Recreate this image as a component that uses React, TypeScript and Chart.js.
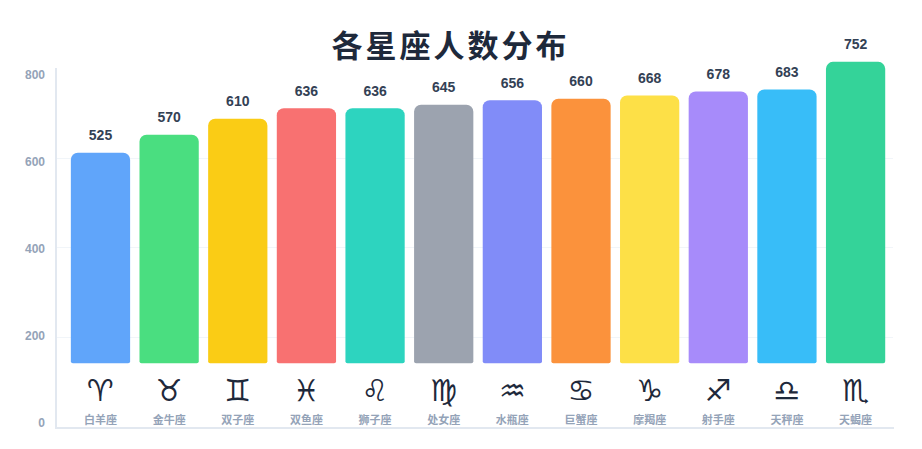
// App.tsx
import React, { useEffect, useRef } from 'react';
import Chart from 'chart.js/auto';

const chartTitle = '各星座人数分布';
const signNames = ['白羊座', '金牛座', '双子座', '双鱼座', '狮子座', '处女座', '水瓶座', '巨蟹座', '摩羯座', '射手座', '天秤座', '天蝎座'];
const signGlyphs = ['♈', '♉', '♊', '♓', '♌', '♍', '♒', '♋', '♑', '♐', '♎', '♏'];
const signCounts = [525, 570, 610, 636, 636, 645, 656, 660, 668, 678, 683, 752];
const barColors = ['#60a5fa', '#4ade80', '#facc15', '#f87171', '#2dd4bf', '#9ca3af', '#818cf8', '#fb923c', '#fde047', '#a78bfa', '#38bdf8', '#34d399'];
const yTickValues = [0, 200, 400, 600, 800];
const gridValues = [200, 400, 600];

const LATIN_FONT = '"Liberation Sans", "Noto Sans CJK SC", sans-serif';

// opaque canvas needs its own white fill
const backgroundPlugin = {
    id: 'whiteBackground',
    beforeDraw(chart: any) {
        const { ctx, width, height } = chart;
        ctx.save();
        ctx.fillStyle = '#ffffff';
        ctx.fillRect(0, 0, width, height);
        ctx.restore();
    },
};

// title, value labels, glyphs and sign names are all drawn on top of the bars
const labelsPlugin = {
    id: 'zodiacLabels',
    afterDatasetsDraw(chart: any) {
        const { ctx } = chart;
        const bars = chart.getDatasetMeta(0).data;
        ctx.save();
        ctx.textAlign = 'center';
        ctx.textBaseline = 'alphabetic';

        ctx.fillStyle = '#1e293b';
        ctx.font = `bold 31px ${LATIN_FONT}`;
        (ctx as any).letterSpacing = '3px';
        ctx.fillText(chartTitle, 450.5, 56.5);
        (ctx as any).letterSpacing = '0px';

        bars.forEach((bar: any, i: number) => {
            ctx.fillStyle = '#334155';
            ctx.font = `bold 14px ${LATIN_FONT}`;
            ctx.fillText(String(signCounts[i]), bar.x, bar.y - 13);

            ctx.fillStyle = '#1e293b';
            ctx.font = '30px "DejaVu Sans"';
            ctx.fillText(signGlyphs[i] + '\uFE0E', bar.x, 401);

            ctx.fillStyle = '#94a3b8';
            ctx.font = `bold 11px ${LATIN_FONT}`;
            ctx.fillText(signNames[i], bar.x, 424);
        });
        ctx.restore();
    },
};

const App: React.FC = () => {
    const chartRef = useRef<HTMLCanvasElement>(null);

    useEffect(() => {
        if (!chartRef.current) return;
        document.body.style.margin = '0';
        // alpha off so text gets the same antialiasing as page text
        chartRef.current.getContext('2d', { alpha: false });

        const chart = new Chart(chartRef.current, {
            type: 'bar',
            data: {
                datasets: [{
                    data: signCounts.map((v, i) => ({ x: i, y: v })),
                    backgroundColor: barColors,
                    barThickness: 58.6,
                    borderSkipped: false,
                    borderRadius: { topLeft: 7, topRight: 7, bottomLeft: 2, bottomRight: 2 },
                    clip: false,
                    yAxisID: 'yBars',
                }],
            } as any,
            options: {
                responsive: false,
                animation: false,
                layout: { padding: { left: 0, right: 29, top: 69, bottom: 13 } },
                plugins: {
                    legend: { display: false },
                    title: { display: false },
                    tooltip: { enabled: false },
                },
                scales: {
                    x: {
                        type: 'linear',
                        bounds: 'data',
                        offset: false,
                        min: -0.648,
                        max: 11.545,
                        ticks: { display: false },
                        grid: { display: false, offset: false },
                        border: { color: '#e2e8f0', width: 2 },
                    },
                    // the bars sit on their own baseline, above the visible axis
                    yBars: {
                        type: 'linear',
                        display: false,
                        bounds: 'data',
                        min: -162.5,
                        max: 735,
                    },
                    yGrid: {
                        type: 'linear',
                        position: 'left',
                        bounds: 'data',
                        min: -2.2,
                        max: 799,
                        afterBuildTicks: (scale: any) => {
                            scale.ticks = gridValues.map(value => ({ value }));
                        },
                        ticks: { display: false },
                        grid: { color: '#f1f5f9', drawTicks: false },
                        border: { color: '#e2e8f0', width: 2 },
                        afterFit: (scale: any) => { scale.width = 0; },
                    },
                    yLabels: {
                        type: 'linear',
                        position: 'left',
                        bounds: 'data',
                        min: -9.9,
                        max: 815.4,
                        grid: { display: false },
                        border: { display: false },
                        afterBuildTicks: (scale: any) => {
                            scale.ticks = yTickValues.map(value => ({ value }));
                        },
                        ticks: {
                            color: '#94a3b8',
                            padding: 3,
                            font: { family: LATIN_FONT, size: 12, weight: 'bold' },
                        },
                        afterFit: (scale: any) => { scale.width = 56; },
                    },
                },
            } as any,
            plugins: [backgroundPlugin, labelsPlugin],
        });

        return () => {
            chart.destroy();
        };
    }, []);

    return <canvas ref={chartRef} width={922} height={449} style={{ display: 'block' }}></canvas>;
};

export default App;
